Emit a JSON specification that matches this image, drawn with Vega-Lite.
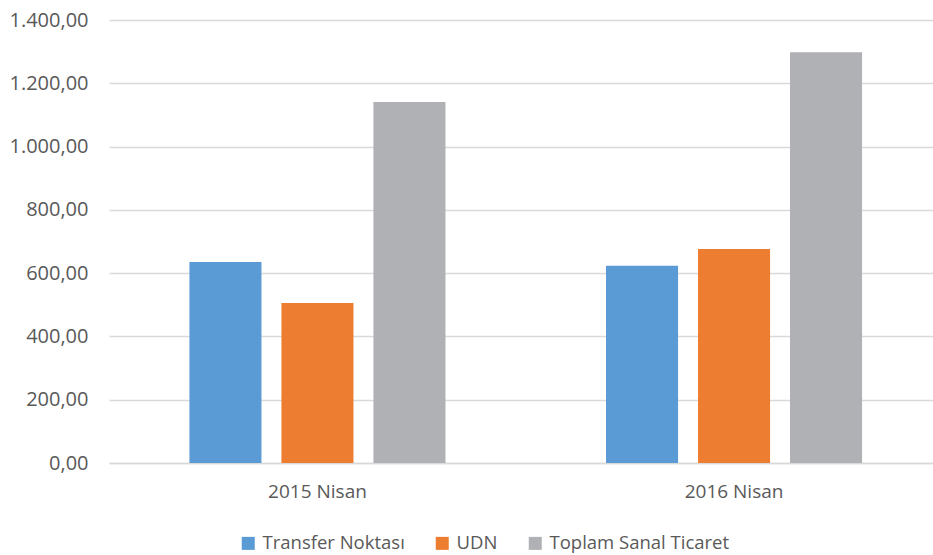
{
  "$schema": "https://vega.github.io/schema/vega-lite/v6.json",
  "autosize": {"type": "none"},
  "width": 824,
  "height": 443,
  "padding": {"left": 109, "top": 20, "right": 0, "bottom": 92},
  "background": "white",
  "config": {
    "locale": {"number": {"decimal": ",", "thousands": ".", "grouping": [3], "currency": ["", ""]}},
    "view": {"stroke": null},
    "font": "Open Sans"
  },
  "data": {
    "values": [
      {"donem": "2015 Nisan", "seri": "Transfer Noktası", "deger": 635},
      {"donem": "2015 Nisan", "seri": "UDN", "deger": 506},
      {"donem": "2015 Nisan", "seri": "Toplam Sanal Ticaret", "deger": 1141},
      {"donem": "2016 Nisan", "seri": "Transfer Noktası", "deger": 623},
      {"donem": "2016 Nisan", "seri": "UDN", "deger": 676},
      {"donem": "2016 Nisan", "seri": "Toplam Sanal Ticaret", "deger": 1298}
    ]
  },
  "mark": {"type": "bar"},
  "encoding": {
    "x": {
      "field": "donem", "type": "nominal",
      "scale": {"paddingInner": 0.1, "paddingOuter": 0.039, "align": 0.646},
      "axis": {"title": null, "labelAngle": 0, "ticks": false, "domainColor": "#d9d9d9", "domainWidth": 1.5, "labelColor": "#595959", "labelFontSize": 19, "labelPadding": 19, "labelFont": "Open Sans"}
    },
    "xOffset": {
      "field": "seri", "type": "nominal",
      "sort": ["Transfer Noktası", "UDN", "Toplam Sanal Ticaret"],
      "scale": {"paddingInner": 0.217, "paddingOuter": 0.646}
    },
    "y": {
      "field": "deger", "type": "quantitative",
      "scale": {"domain": [0, 1400], "nice": false},
      "axis": {"title": null, "values": [0, 200, 400, 600, 800, 1000, 1200, 1400], "format": ",.2f", "ticks": false, "domain": false, "gridColor": "#d9d9d9", "gridWidth": 1.5, "labelColor": "#595959", "labelFontSize": 20, "labelPadding": 21, "labelFont": "Open Sans"}
    },
    "color": {
      "field": "seri", "type": "nominal",
      "sort": ["Transfer Noktası", "UDN", "Toplam Sanal Ticaret"],
      "scale": {"domain": ["Transfer Noktası", "UDN", "Toplam Sanal Ticaret"], "range": ["#5b9bd5", "#ed7d31", "#b0b1b4"]},
      "legend": {"title": null, "orient": "none", "direction": "horizontal", "legendX": 130, "legendY": 514, "symbolType": "square", "symbolSize": 169, "symbolStrokeWidth": 0, "labelFontSize": 18.5, "labelColor": "#595959", "labelFont": "Open Sans", "labelLimit": 400, "columnPadding": 28, "labelOffset": 5}
    }
  }
}
